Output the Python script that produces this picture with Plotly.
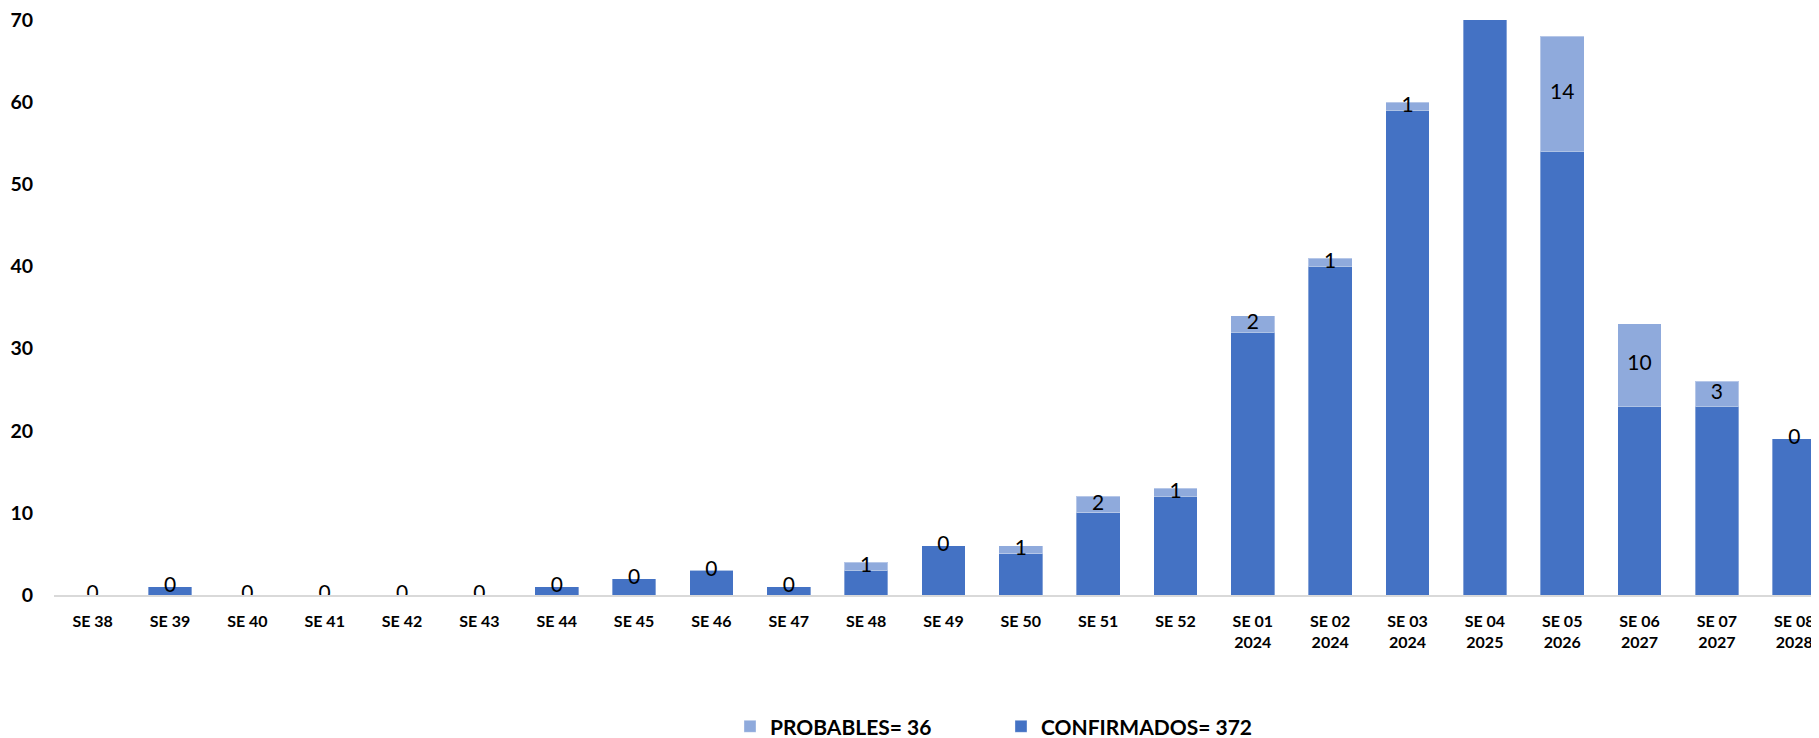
import plotly.graph_objects as go

categories = ["SE 38", "SE 39", "SE 40", "SE 41", "SE 42", "SE 43", "SE 44", "SE 45",
              "SE 46", "SE 47", "SE 48", "SE 49", "SE 50", "SE 51", "SE 52",
              "SE 01<br>2024", "SE 02<br>2024", "SE 03<br>2024", "SE 04<br>2025",
              "SE 05<br>2026", "SE 06<br>2027", "SE 07<br>2027", "SE 08<br>2028"]
confirmados = [0, 1, 0, 0, 0, 0, 1, 2, 3, 1, 3, 6, 5, 10, 12, 32, 40, 59, 78, 54, 23, 23, 19]
probables = [0, 0, 0, 0, 0, 0, 0, 0, 0, 0, 1, 0, 1, 2, 1, 2, 1, 1, 0, 14, 10, 3, 0]
y_ticks = [0, 10, 20, 30, 40, 50, 60, 70]

name_conf = "CONFIRMADOS= %d" % sum(confirmados)
name_prob = "PROBABLES= %d" % sum(probables)

x_idx = list(range(len(categories)))
FONT = "Lato"

fig = go.Figure()
fig.add_trace(go.Bar(
    x=x_idx, y=confirmados, name=name_conf,
    marker=dict(color="#4472C4", line=dict(color="rgba(255,255,255,0.35)", width=1)),
    width=0.565, hoverinfo="skip"))
fig.add_trace(go.Bar(
    x=x_idx, y=probables, name=name_prob,
    marker=dict(color="#8FAADC", line=dict(color="rgba(255,255,255,0.35)", width=1)),
    width=0.565, hoverinfo="skip"))

label_y = [c + p / 2 for c, p in zip(confirmados, probables)]
fig.add_trace(go.Scatter(
    x=x_idx, y=label_y, mode="text", text=[str(p) for p in probables],
    textfont=dict(family=FONT, size=21, color="#000000"),
    textposition="middle center", showlegend=False, cliponaxis=True, hoverinfo="skip"))

# page body has an 8px default margin: size the figure so it fits the window
fig.update_layout(
    width=1811, height=730,
    barmode="stack",
    plot_bgcolor="white", paper_bgcolor="white",
    margin=dict(l=46, r=0, t=12, b=143, autoexpand=False),
    font=dict(family=FONT, color="#000000"),
    legend=dict(
        orientation="h", traceorder="reversed",
        x=0.383, xanchor="left", y=-0.229, yanchor="middle",
        font=dict(family=FONT, size=21, color="#000000", weight="bold"),
        entrywidth=226, entrywidthmode="pixels",
        bgcolor="rgba(0,0,0,0)"),
    xaxis=dict(
        range=[-0.5, 22.32], automargin=False,
        tickmode="array", tickvals=x_idx, ticktext=categories,
        tickfont=dict(family=FONT, size=16, color="#000000", weight="bold"),
        ticklabeloverflow="allow",
        showline=True, linecolor="#D9D9D9", linewidth=2,
        showgrid=False, zeroline=False, ticks="", ticklabelstandoff=11),
    yaxis=dict(
        range=[0, 70], tickmode="array", tickvals=y_ticks, automargin=False,
        tickfont=dict(family=FONT, size=19.5, color="#000000", weight="bold"),
        ticklabeloverflow="allow",
        showgrid=False, zeroline=False, showline=False, ticks="",
        ticklabelstandoff=20),
)

fig.write_html("out.html")
